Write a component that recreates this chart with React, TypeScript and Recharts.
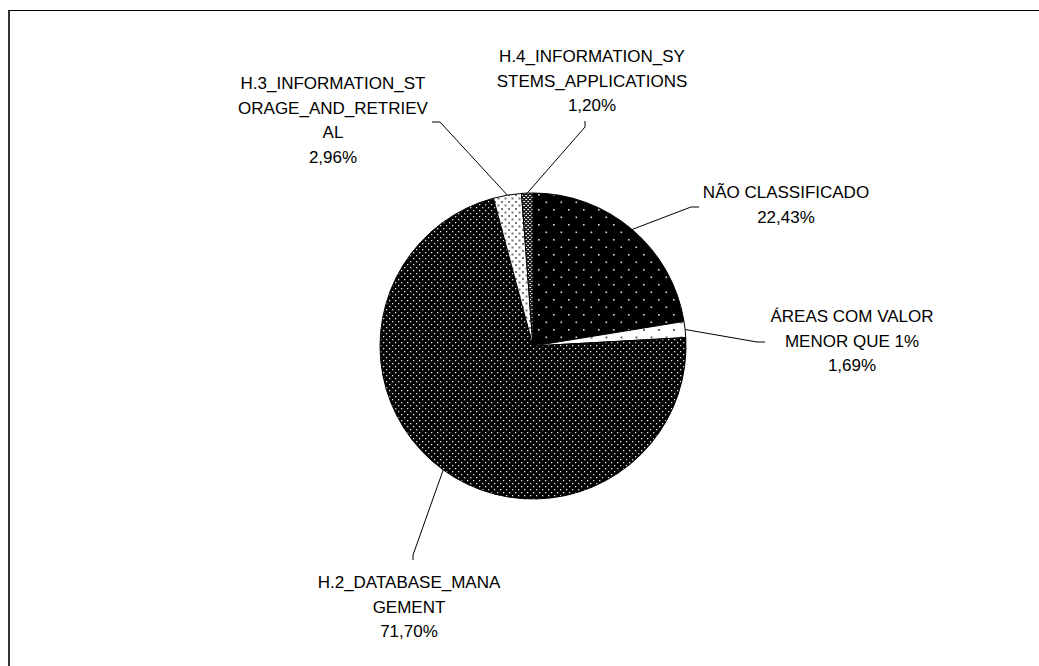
import { Cell, Pie, PieChart } from 'recharts';

const categories = [
  'NÃO CLASSIFICADO',
  'ÁREAS COM VALOR MENOR QUE 1%',
  'H.2_DATABASE_MANAGEMENT',
  'H.3_INFORMATION_STORAGE_AND_RETRIEVAL',
  'H.4_INFORMATION_SYSTEMS_APPLICATIONS',
];
const shares = [22.43, 1.69, 71.7, 2.96, 1.2];
// the wrapped label lines as the original prints them (without the percentage)
const labelNames = [
  ['NÃO CLASSIFICADO'],
  ['ÁREAS COM VALOR', 'MENOR QUE 1%'],
  ['H.2_DATABASE_MANA', 'GEMENT'],
  ['H.3_INFORMATION_ST', 'ORAGE_AND_RETRIEV', 'AL'],
  ['H.4_INFORMATION_SY', 'STEMS_APPLICATIONS'],
];
const fills = ['url(#patNao)', 'url(#patAreas)', 'url(#patH2)', 'url(#patH3)', 'url(#patH4)'];

// label placement relative to the pie centre: text centre / first baseline, leader knee and end
const labelLayout = [
  { dx: 253, dy: -148, knee: [158, -139], end: [166, -139] },
  { dx: 319, dy: -24, knee: [224, -4], end: [232, -4] },
  { dx: -124, dy: 242, knee: [-120, 209], end: [-120, 214] },
  { dx: -200, dy: -257, knee: [-93, -224], end: [-101, -224] },
  { dx: 59, dy: -284, knee: [52, -219], end: [52, -225] },
];

const data = categories.map((name, i) => ({ name, value: shares[i] }));

const FONT = 'Arial, "Liberation Sans", sans-serif';
const LINE_H = 24.5;
const RAD = Math.PI / 180;

const pct = (v: number) => v.toFixed(2).replace('.', ',') + '%';

function renderLabel(props: any) {
  const { cx, cy, midAngle, outerRadius, index } = props;
  const lay = labelLayout[index];
  const sx = cx + outerRadius * Math.cos(-midAngle * RAD);
  const sy = cy + outerRadius * Math.sin(-midAngle * RAD);
  const lines = [...labelNames[index], pct(shares[index])];
  return (
    <g key={`lbl-${index}`}>
      <polyline
        points={`${sx},${sy} ${cx + lay.knee[0]},${cy + lay.knee[1]} ${cx + lay.end[0]},${cy + lay.end[1]}`}
        fill="none"
        stroke="#000"
        strokeWidth={1}
      />
      <text x={cx + lay.dx} y={cy + lay.dy} textAnchor="middle" fontFamily={FONT} fontSize={17} fill="#000">
        {lines.map((l, j) => (
          <tspan key={j} x={cx + lay.dx} dy={j === 0 ? 0 : LINE_H}>
            {l}
          </tspan>
        ))}
      </text>
    </g>
  );
}

export default function App() {
  return (
    <div
      style={{
        position: 'absolute',
        left: 8,
        top: 10,
        width: 1031,
        height: 656,
        overflow: 'hidden',
        borderTop: '1px solid #000',
        borderLeft: '2px solid #333',
        background: '#fff',
        boxSizing: 'border-box',
      }}
    >
      <PieChart width={1000} height={655}>
        <defs>
          <pattern id="patH2" width="6" height="6" patternUnits="userSpaceOnUse">
            <rect width="6" height="6" fill="#000" />
            <rect x="1" y="1" width="1.3" height="1.3" fill="#e6e6e6" />
            <rect x="4" y="4" width="1.3" height="1.3" fill="#e6e6e6" />
          </pattern>
          <pattern id="patNao" width="15" height="15" patternUnits="userSpaceOnUse">
            <rect width="15" height="15" fill="#000" />
            <rect x="3" y="3" width="1.6" height="1.6" fill="#dcdcdc" />
            <rect x="10.5" y="10.5" width="1.6" height="1.6" fill="#dcdcdc" />
          </pattern>
          <pattern id="patAreas" width="15" height="15" patternUnits="userSpaceOnUse">
            <rect width="15" height="15" fill="#fff" />
            <rect x="3" y="3" width="2" height="2" fill="#666" />
            <rect x="10.5" y="10.5" width="2" height="2" fill="#666" />
          </pattern>
          <pattern id="patH3" width="7" height="7" patternUnits="userSpaceOnUse">
            <rect width="7" height="7" fill="#fff" />
            <rect x="1" y="1" width="2" height="2" fill="#777" />
            <rect x="4.5" y="4.5" width="2" height="2" fill="#777" />
          </pattern>
          <pattern id="patH4" width="4" height="4" patternUnits="userSpaceOnUse">
            <rect width="4" height="4" fill="#222" />
            <rect x="0" y="0" width="1" height="1" fill="#fff" />
            <rect x="2" y="2" width="1" height="1" fill="#fff" />
            <rect x="1" y="2" width="1" height="1" fill="#bbb" />
            <rect x="3" y="0" width="1" height="1" fill="#bbb" />
          </pattern>
        </defs>
        <Pie
          data={data}
          dataKey="value"
          nameKey="name"
          cx={518}
          cy={330}
          outerRadius={153}
          startAngle={90}
          endAngle={-270}
          stroke="#000"
          strokeWidth={1}
          label={renderLabel}
          labelLine={false}
          isAnimationActive={false}
        >
          {data.map((d, i) => (
            <Cell key={d.name} fill={fills[i]} />
          ))}
        </Pie>
      </PieChart>
    </div>
  );
}
